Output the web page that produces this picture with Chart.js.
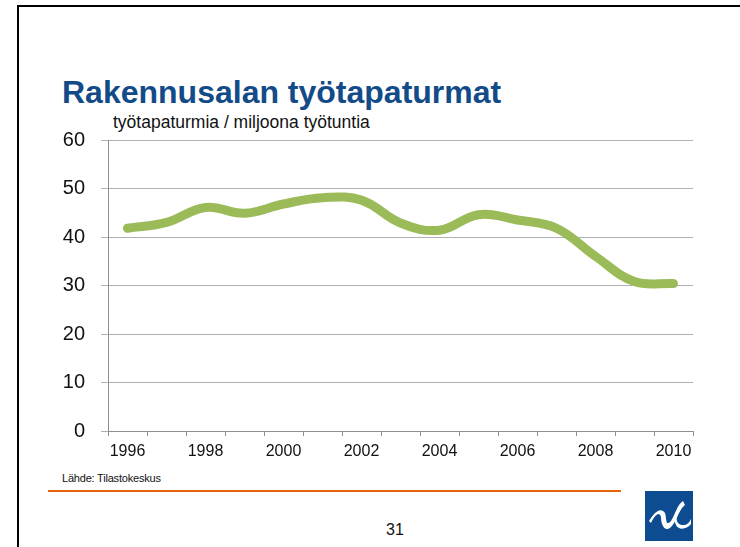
<!DOCTYPE html>
<html>
<head>
<meta charset="utf-8">
<script src="https://cdn.jsdelivr.net/npm/chart.js@4"></script>
<style>
  html, body { margin:0; padding:0; background:#fff; }
  body { width:740px; height:547px; position:relative; overflow:hidden; font-family:"Liberation Sans", Arial, sans-serif; }
  #frame { position:absolute; left:17px; top:5px; width:800px; height:600px; border-left:2px solid #000; border-top:2px solid #000; box-sizing:border-box; }
  .t { position:absolute; white-space:nowrap; }
  #title { left:62px; top:76px; font-size:32px; line-height:32px; font-weight:bold; color:#134B88; }
  #sub { left:113px; top:114px; font-size:17.5px; line-height:17.5px; color:#111; }
  #src { left:62px; top:473px; font-size:11px; line-height:11px; color:#111; letter-spacing:-0.2px; }
  #rule { position:absolute; left:48px; top:490px; width:573px; height:2px; background:#E8620E; }
  #page { left:386px; top:522px; font-size:16px; line-height:16px; color:#111; }
  #logo { position:absolute; left:645px; top:491px; }
  canvas { position:absolute; left:0; top:0; }
</style>
</head>
<body>
<div id="frame"></div>
<div class="t" id="title">Rakennusalan työtapaturmat</div>
<div class="t" id="sub">työtapaturmia / miljoona työtuntia</div>
<div class="t" id="src">Lähde: Tilastokeskus</div>
<div id="rule"></div>
<div class="t" id="page">31</div>
<svg id="logo" width="48" height="50" viewBox="0 0 48 50">
  <rect x="0" y="0" width="48" height="50" fill="#0E4C92"/>
  <path d="M4 30 C 10 20, 16 16, 20 22 C 22 28, 20 36, 26 30 C 30 24, 32 14, 38 10 L 40 14 C 34 18, 32 30, 26 36 C 20 42, 16 34, 16 26 C 14 20, 10 24, 6 32 Z" fill="#fff"/>
  <path d="M36 18 C 30 24, 30 34, 38 34 C 42 34, 44 32, 46 28 L 46 33 C 42 38, 34 40, 31 34 C 28 28, 31 20, 36 18 Z" fill="#fff"/>
</svg>
<canvas id="c" width="740" height="547"></canvas>
<script>
const years = ['1996','1997','1998','1999','2000','2001','2002','2003','2004','2005','2006','2007','2008','2009','2010'];
const accidents = [41.8, 43.0, 46.1, 44.9, 46.8, 48.1, 47.6, 42.9, 41.4, 44.6, 43.5, 41.8, 36.0, 30.8, 30.4];
const yTicks = [0, 10, 20, 30, 40, 50, 60];

new Chart(document.getElementById('c'), {
  type: 'line',
  data: {
    labels: years,
    datasets: [{
      data: accidents,
      borderColor: '#9BBB59',
      borderWidth: 9,
      borderCapStyle: 'round',
      borderJoinStyle: 'round',
      tension: 0.4,
      pointRadius: 0,
      fill: false,
      clip: false
    }]
  },
  options: {
    responsive: false,
    animation: false,
    events: [],
    layout: { padding: { left: 0, top: 140, right: 47, bottom: 0 } },
    plugins: { legend: { display: false }, tooltip: { enabled: false } },
    scales: {
      x: {
        type: 'category',
        offset: true,
        afterFit: s => { s.height = 116; },
        grid: { offset: true, drawOnChartArea: false, drawTicks: true, tickLength: 5, color: '#8f8f8f', lineWidth: 1 },
        border: { display: true, color: '#8f8f8f', width: 1 },
        ticks: {
          autoSkip: false,
          maxRotation: 0,
          padding: 6,
          color: '#111',
          font: { family: '"Liberation Sans", Arial, sans-serif', size: 16 },
          callback: function(v, i) { return i % 2 === 0 ? this.getLabelForValue(v) : ''; }
        }
      },
      y: {
        min: yTicks[0],
        max: yTicks[yTicks.length - 1],
        afterFit: s => { s.width = 108; },
        afterBuildTicks: s => { s.ticks = yTicks.map(v => ({ value: v })); },
        grid: { color: '#b0b0b0', lineWidth: 1, tickLength: 7, drawTicks: true },
        border: { display: true, color: '#8f8f8f', width: 1 },
        ticks: {
          padding: 16,
          color: '#111',
          font: { family: '"Liberation Sans", Arial, sans-serif', size: 20 }
        }
      }
    }
  }
});
</script>
</body>
</html>
